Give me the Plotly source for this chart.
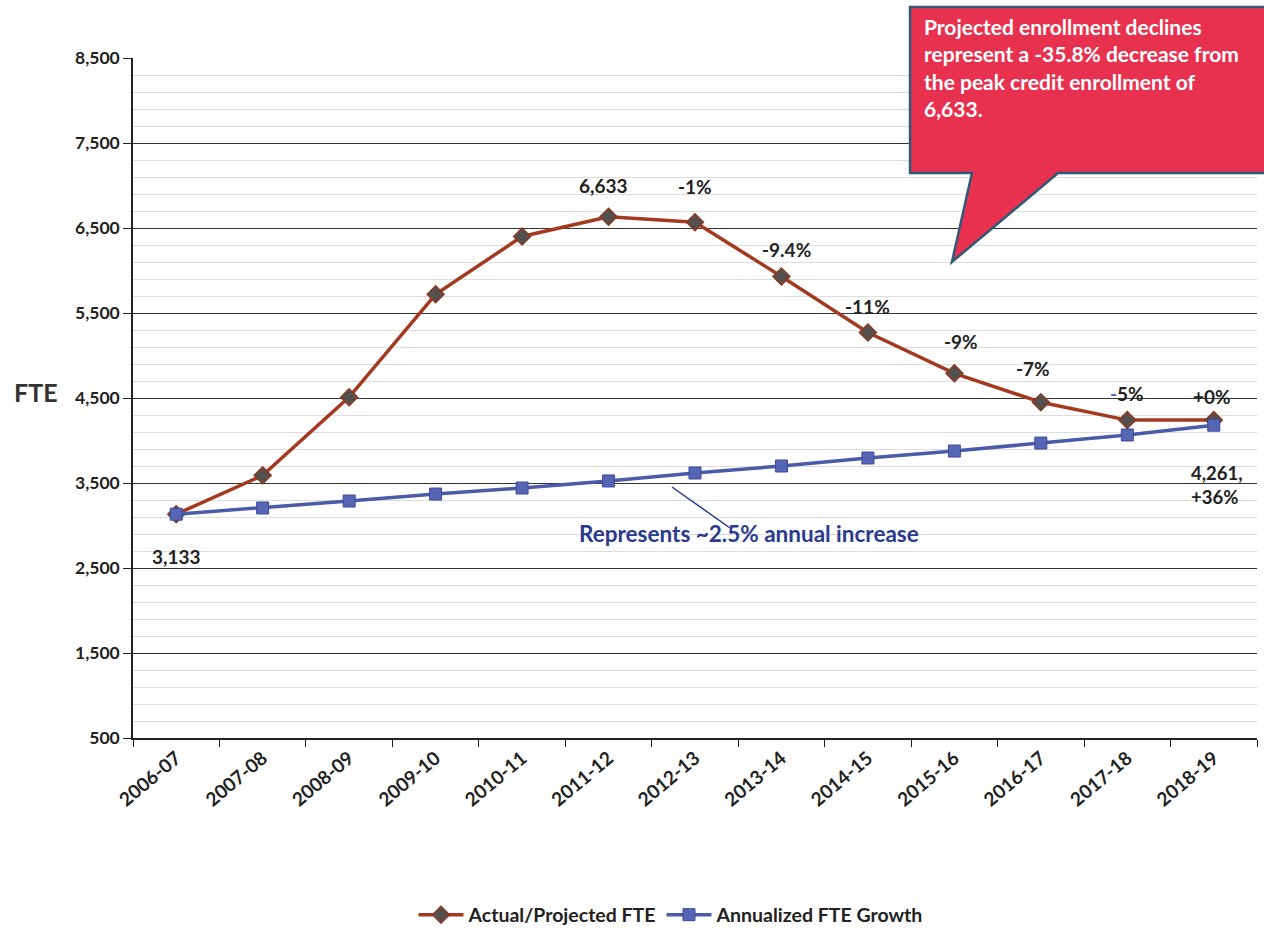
import plotly.graph_objects as go

years = ["2006-07", "2007-08", "2008-09", "2009-10", "2010-11", "2011-12", "2012-13",
         "2013-14", "2014-15", "2015-16", "2016-17", "2017-18", "2018-19"]
actual_fte = [3133, 3590, 4510, 5720, 6400, 6633, 6567, 5930, 5270, 4790, 4450, 4240, 4240]
growth_fte = [3133, 3206, 3288, 3370, 3441, 3524, 3618, 3700, 3794, 3876, 3970, 4065, 4180]
pct_labels = ["", "", "", "", "", "", "-1%", "-9.4%", "-11%", "-9%", "-7%", "-5%", "+0%"]
y_ticks = [500, 1500, 2500, 3500, 4500, 5500, 6500, 7500, 8500]

FONT = "Lato"
L, R, T, B = 133, 1257, 58, 738
W, H = 1264, 930

def px(x):
    return (x - L) / (R - L)

def py(y):
    return (B - y) / (B - T)

fig = go.Figure()
fig.add_trace(go.Scatter(
    x=years, y=actual_fte, name="Actual/Projected FTE", mode="lines+markers",
    line=dict(color="#A33A1F", width=3.5),
    marker=dict(symbol="diamond", size=13, color="#555050", line=dict(color="#8A3A20", width=1.5)),
))
fig.add_trace(go.Scatter(
    x=years, y=growth_fte, name="Annualized FTE Growth", mode="lines+markers",
    line=dict(color="#4A5BA8", width=3.5),
    marker=dict(symbol="square", size=12, color="#5566B5", line=dict(color="#3A4A98", width=1)),
))

LBL = 19
annotations = []
annotations.append(dict(x=years[0], y=actual_fte[0], text="<b>3,133</b>", showarrow=False,
                        yshift=-42, xshift=0, font=dict(size=LBL, color="#222")))
annotations.append(dict(x=years[5], y=actual_fte[5], text="<b>6,633</b>", showarrow=False,
                        yshift=31, xshift=-5, font=dict(size=LBL, color="#222")))
pct_offsets = {6: (0, 36), 7: (5, 27), 8: (0, 26), 9: (7, 32), 10: (-8, 34), 11: (0, 27), 12: (-2, 24)}
for i, lab in enumerate(pct_labels):
    if not lab:
        continue
    dx, dy = pct_offsets[i]
    text = "<b>" + lab + "</b>"
    if i == 11:
        text = "<b><span style='color:#4A6FBF'>-</span>5%</b>"
    annotations.append(dict(x=years[i], y=actual_fte[i], text=text, showarrow=False,
                            xshift=dx, yshift=dy, font=dict(size=LBL, color="#222")))
annotations.append(dict(x=years[12], y=growth_fte[12], text="<b>4,261,<br>+36%</b>", showarrow=False,
                        xshift=3, yshift=-60, align="left", font=dict(size=LBL - 0.5, color="#222")))
annotations.append(dict(xref="paper", yref="paper", x=px(749), y=py(549),
                        text="<b>Represents ~2.5% annual increase</b>", showarrow=False,
                        font=dict(size=22.5, color="#2A3A8C")))
annotations.append(dict(xref="paper", yref="paper", x=px(922), y=py(12), xanchor="left", yanchor="top",
                        text="<b>Projected enrollment declines<br>represent a -35.8% decrease from<br>"
                             "the peak credit enrollment of<br>6,633.</b>",
                        showarrow=False, align="left",
                        font=dict(size=21, color="white", family=FONT)))
annotations.append(dict(xref="paper", yref="paper", x=px(12), y=py(392), xanchor="left",
                        text="<b>FTE</b>",
                        showarrow=False, font=dict(size=25, color="#333")))

pts = [(910, 7), (1268, 7), (1268, 173), (1058, 173), (952, 262), (972, 173), (910, 173)]
path = "M " + " L ".join(f"{px(a):.4f},{py(b):.4f}" for a, b in pts) + " Z"
shapes = [dict(type="path", xref="paper", yref="paper", path=path,
               fillcolor="#E8304F", line=dict(color="#2E5A78", width=2.5), layer="above")]
shapes.append(dict(type="line", xref="paper", yref="paper", x0=px(730), y0=py(528), x1=px(672), y1=py(487),
                   line=dict(color="#2A3A8C", width=1.5)))

fig.update_layout(
    width=W, height=H,
    margin=dict(l=L, r=W - R, t=T, b=H - B, autoexpand=False),
    paper_bgcolor="white", plot_bgcolor="white",
    font=dict(family=FONT, color="#222"),
    showlegend=True,
    legend=dict(orientation="h", x=px(671), xanchor="center",
                y=py(915), yanchor="middle",
                font=dict(size=19.5, color="#222", weight="bold"), itemwidth=45),
    annotations=annotations,
    shapes=shapes,
)
fig.update_xaxes(
    type="category", tickson="boundaries", ticks="outside", ticklen=7, tickcolor="#222",
    showline=True, linecolor="#222", linewidth=1.5, showgrid=False, automargin=False,
    tickangle=-40, tickfont=dict(size=19, color="#222", family=FONT),
    ticktext=[f"<b>{y}</b>" for y in years], tickvals=years,
    range=[-0.5, len(years) - 0.5],
)
fig.update_yaxes(
    range=[500, 8500], tickvals=y_ticks, ticktext=[f"<b>{v:,}</b>" for v in y_ticks],
    ticks="outside", ticklen=8, tickcolor="#222", automargin=False,
    showline=True, linecolor="#222", linewidth=1.5,
    showgrid=True, gridcolor="#333", gridwidth=1,
    minor=dict(dtick=200, tick0=500, showgrid=True, gridcolor="#DDDDDD", gridwidth=1),
    tickfont=dict(size=17.5, color="#222", family=FONT),
    zeroline=False,
)

fig.write_html("out.html")
